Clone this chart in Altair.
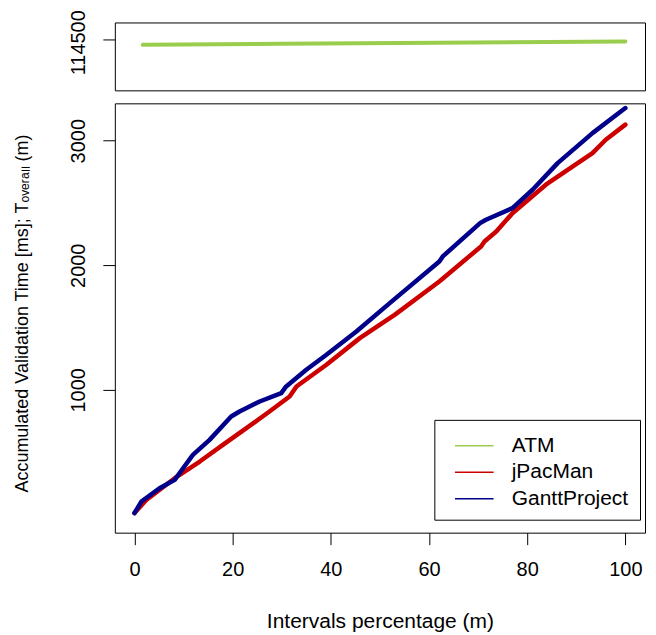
import altair as alt
import pandas as pd

# ---- data ----
series_names = ["ATM", "jPacMan", "GanttProject"]
series_colors = ["#9ACD4E", "#CD0000", "#00008B"]

atm_x = [1.7, 30, 62, 100]
atm_y = [114485, 114488, 114491, 114495]

pac_x = [0, 2.4, 8.2, 13.3, 18, 22.8, 27.5, 31.6, 33, 39.1, 45.9, 52, 53,
         62.1, 70.6, 71.3, 73.7, 77, 83.8, 93.3, 96, 100]
pac_y = [10, 116, 290, 424, 558, 692, 826, 946, 1027, 1201, 1415, 1575, 1602,
         1870, 2151, 2191, 2271, 2418, 2647, 2900, 3008, 3129]

gantt_x = [0, 1.4, 5.1, 8.2, 9.9, 11.9, 15.3, 19.7, 21.4, 25.5, 29.9, 30.9, 35,
           39.1, 45.2, 52, 62.1, 62.8, 70.4, 71.6, 77, 81.1, 86.2, 93.3, 100]
gantt_y = [10, 103, 210, 277, 370, 478, 598, 786, 826, 906, 973, 1027, 1161,
           1281, 1468, 1696, 2030, 2071, 2338, 2365, 2459, 2606, 2820, 3061, 3262]

x_ticks = [0, 20, 40, 60, 80, 100]
y_ticks_bottom = [1000, 2000, 3000]
y_ticks_top = [114500]

FONT = "Liberation Sans"

atm_df = pd.DataFrame({"x": atm_x, "y": atm_y, "series": "ATM"})
low_df = pd.concat([
    pd.DataFrame({"x": pac_x, "y": pac_y, "series": "jPacMan", "o": range(len(pac_x))}),
    pd.DataFrame({"x": gantt_x, "y": gantt_y, "series": "GanttProject", "o": range(len(gantt_x))}),
])

x_scale = alt.Scale(domain=[-4, 104], nice=False, zero=False)

top = alt.Chart(atm_df).mark_line(
    color=series_colors[0], strokeWidth=4, strokeCap="round"
).encode(
    x=alt.X("x:Q", scale=x_scale, axis=None),
    y=alt.Y("y:Q", scale=alt.Scale(domain=[114351, 114551], nice=False, zero=False),
            axis=alt.Axis(values=y_ticks_top, title=None, labelOffset=2.5, format="d")),
).properties(width=531, height=68)

bottom = alt.Chart(low_df).mark_line(strokeWidth=4.5, strokeCap="round", strokeJoin="round").encode(
    x=alt.X("x:Q", scale=x_scale,
            axis=alt.Axis(values=x_ticks, title="Intervals percentage (m)", format="d",
                          titleY=95, titleBaseline="alphabetic", titleFontSize=21)),
    y=alt.Y("y:Q", scale=alt.Scale(domain=[-147, 3300], nice=False, zero=False),
            axis=alt.Axis(values=y_ticks_bottom, format="d",
                          title="Accumulated Validation Time [ms]; Tₒᵥₑᵣₐₗₗ (m)",
                          titleX=-87, titleY=210, titleBaseline="alphabetic",
                          titleAngle=270, titleAlign="center", titleFontSize=18)),
    color=alt.Color("series:N",
                    scale=alt.Scale(domain=series_names, range=series_colors),
                    legend=alt.Legend(title=None, orient="none", legendX=320, legendY=317,
                                      strokeColor="black", fillColor="white", padding=11,
                                      cornerRadius=0, symbolType="M-1.382,0H1.382",
                                      symbolSize=784, symbolStrokeWidth=1.5,
                                      labelFontSize=21, labelFont=FONT,
                                      labelOffset=22.5, symbolOffset=14, rowPadding=1.5)),
    order="o:Q",
).properties(width=531, height=430)

chart = alt.vconcat(top, bottom, spacing=11).resolve_scale(
    color="independent").resolve_legend(color="independent").properties(
    padding={"left": 5, "top": 0, "right": 2, "bottom": 0}
).configure_view(stroke="black", strokeWidth=1).configure_axis(
    domain=False, grid=False, tickColor="black", tickSize=12, tickWidth=1,
    labelColor="black", labelFont=FONT, labelFontSize=20, titleFont=FONT,
    titleFontSize=20, titleFontWeight="normal", titleColor="black",
).configure_axisY(
    labelAngle=270, labelAlign="center", labelBaseline="alphabetic", labelPadding=18
).configure_axisX(
    labelPadding=15
)

chart.save("out.html", embed_options={"renderer": "svg", "actions": False})
